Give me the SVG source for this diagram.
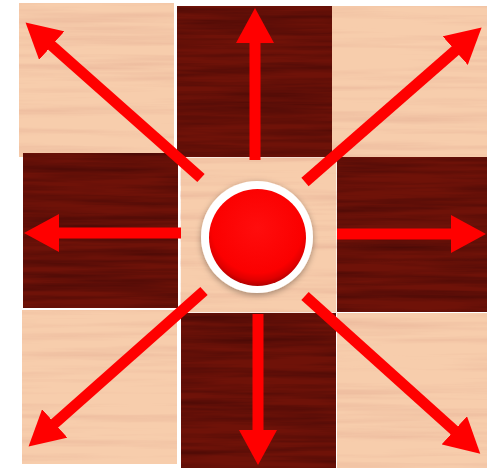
<svg xmlns="http://www.w3.org/2000/svg" width="487" height="468" viewBox="0 0 487 468">
  <defs>
    <style>
      .light { fill: #f7cdac; filter: url(#woodL); }
      .dark { fill: #6f1208; filter: url(#woodD); }
      .arrow { stroke: #ff0000; stroke-width: 11; fill: none; marker-end: url(#ah); }
    </style>
    <filter id="woodL" x="0" y="0" width="1" height="1" color-interpolation-filters="sRGB">
      <feTurbulence type="fractalNoise" baseFrequency="0.004 0.11" numOctaves="4" seed="7" result="n"/>
      <feColorMatrix in="n" type="matrix" values="0 0 0 0 0.84  0 0 0 0 0.58  0 0 0 0 0.50  0.7 0 0 0 -0.3" result="g"/>
      <feComposite in="g" in2="SourceGraphic" operator="atop"/>
    </filter>
    <filter id="woodD" x="0" y="0" width="1" height="1" color-interpolation-filters="sRGB">
      <feTurbulence type="fractalNoise" baseFrequency="0.006 0.14" numOctaves="4" seed="3" result="n"/>
      <feColorMatrix in="n" type="matrix" values="0 0 0 0 0.26  0 0 0 0 0.03  0 0 0 0 0.02  1.4 0 0 0 -0.45" result="g"/>
      <feComposite in="g" in2="SourceGraphic" operator="atop"/>
    </filter>
    <filter id="shadow" x="-30%" y="-30%" width="160%" height="160%">
      <feDropShadow dx="0" dy="2" stdDeviation="3" flood-color="#000" flood-opacity="0.35"/>
    </filter>
    <radialGradient id="btn" cx="50%" cy="40%" r="60%">
      <stop offset="0" stop-color="#ff0d0d"/>
      <stop offset="0.78" stop-color="#fb0000"/>
      <stop offset="0.9" stop-color="#e00000"/>
      <stop offset="1" stop-color="#b00000"/>
    </radialGradient>
    <marker id="ah" markerUnits="userSpaceOnUse" viewBox="0 0 36 38" markerWidth="36" markerHeight="38" refX="1" refY="19" orient="auto">
      <path d="M0,0 L35,19 L0,38 Z" fill="#ff0000"/>
    </marker>
  </defs>
  <rect width="487" height="468" fill="#ffffff"/>
  <g id="tiles">
    <rect id="tile-tl" class="light" x="19" y="3" width="155" height="154"/>
    <rect id="tile-tm" class="dark" x="177" y="6" width="155" height="151"/>
    <rect id="tile-tr" class="light" x="332" y="6" width="155" height="151"/>
    <rect id="tile-ml" class="dark" x="23" y="153" width="155" height="155"/>
    <rect id="tile-mr" class="dark" x="337" y="157" width="150" height="155"/>
    <rect id="tile-bl" class="light" x="22" y="310" width="155" height="154"/>
    <rect id="tile-bm" class="dark" x="181" y="312" width="155" height="156"/>
    <rect id="tile-br" class="light" x="337" y="313" width="150" height="155"/>
    <rect id="tile-c" class="light" x="180" y="157" width="157" height="156" stroke="#ffffff" stroke-width="1.5"/>
  </g>
  <g id="connectors">
    <line class="arrow" x1="255" y1="160" x2="255" y2="42"/>
    <line class="arrow" x1="258" y1="314" x2="258" y2="431"/>
    <line class="arrow" x1="181" y1="233" x2="58" y2="233"/>
    <line class="arrow" x1="337" y1="234" x2="452" y2="234"/>
    <line class="arrow" x1="201" y1="178" x2="51" y2="45"/>
    <line class="arrow" x1="305" y1="182" x2="456" y2="50"/>
    <line class="arrow" x1="305" y1="296" x2="455" y2="431"/>
    <line class="arrow" x1="204" y1="291" x2="54" y2="424"/>
  </g>
  <g id="center">
    <circle cx="257" cy="237" r="56" fill="#ffffff" filter="url(#shadow)"/>
    <circle cx="257.5" cy="237.5" r="48.5" fill="url(#btn)"/>
  </g>
</svg>
